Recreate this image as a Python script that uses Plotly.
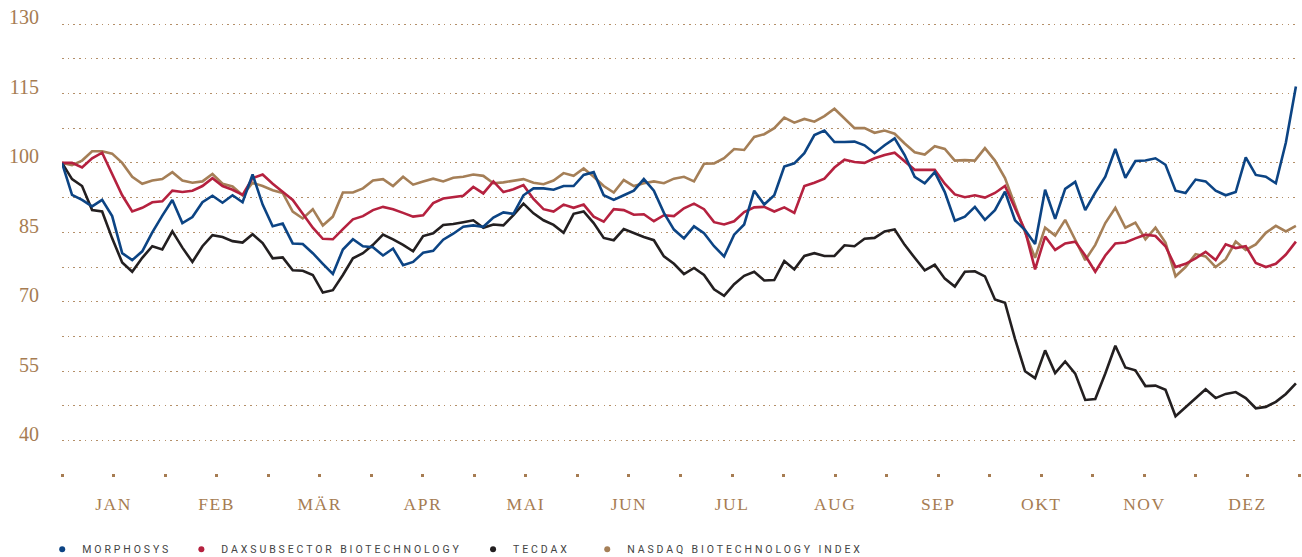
import numpy as np
import plotly.graph_objects as go

# ---------------- data (index, start = 100) ----------------
months = ["JAN", "FEB", "MÄR", "APR", "MAI", "JUN", "JUL", "AUG", "SEP", "OKT", "NOV", "DEZ"]

morphosys = [
    100, 93.1, 92, 90.6, 92, 88.5, 80.5, 79, 80.9, 85,
    88.6, 92, 87, 88.3, 91.5, 92.9, 91.4, 93, 91.5, 97.5,
    91, 86.3, 86.9, 82.6, 82.5, 80.5, 78.2, 76, 81.3, 83.5,
    82, 81.8, 80, 81.5, 77.9, 78.6, 80.6, 81, 83.4, 84.7,
    86.2, 86.5, 86.2, 88.2, 89.3, 89, 93, 94.5, 94.5, 94.2,
    95, 95, 97.4, 98, 93, 92, 93, 94, 96.5, 94,
    89.2, 85.6, 83.7, 86.3, 84.8, 82, 79.8, 84.5, 86.7, 94,
    91, 93, 99.2, 99.9, 102.1, 106, 107, 104.5, 104.5, 104.6,
    103.8, 102.1, 103.8, 105.3, 101.7, 97, 95.6, 98, 93.7, 87.5,
    88.4, 90.5, 87.7, 89.8, 93.8, 87.6, 85.5, 82.5, 94.2, 87.9,
    94.4, 95.9, 89.8, 93.6, 97, 103, 96.8, 100.4, 100.5, 101,
    99.6, 94, 93.5, 96.4, 96, 94, 93, 93.7, 101.2, 97.4,
    97, 95.6, 104.4, 116.5,
]

dax_biotech = [
    100, 100, 99, 101, 102.2, 97.7, 93, 89.5, 90.3, 91.5,
    91.7, 94, 93.7, 94, 95, 96.7, 95, 94.2, 93.1, 96.7,
    97.5, 95.5, 93.8, 92, 89, 86, 83.6, 83.5, 85.7, 87.8,
    88.5, 89.8, 90.5, 90, 89.2, 88.4, 88.7, 91.3, 92.3, 92.6,
    92.9, 94.8, 93.4, 96, 93.7, 94.3, 95.2, 92.2, 90, 89.5,
    91, 90.3, 91, 88.4, 87.3, 90, 89.8, 88.8, 88.9, 87.4,
    88.7, 88.5, 90.2, 91.2, 90, 87.2, 86.7, 87.4, 89.4, 90.4,
    90.5, 89.5, 90.4, 89.2, 95, 95.7, 96.6, 99, 100.7, 100.2,
    100, 101, 101.7, 102.2, 100.3, 98.5, 98.5, 98.5, 95.5, 93.2,
    92.6, 93, 92.5, 93.5, 95, 90, 85.4, 77, 84.1, 81.2,
    82.6, 83, 80, 76.5, 80, 82.6, 82.8, 83.7, 84.5, 84.2,
    82, 77.5, 78.2, 79.4, 80.8, 79, 82.4, 81.6, 82, 78.4,
    77.5, 78.2, 80.2, 83.0,
]

tecdax = [
    100, 96.5, 95, 89.8, 89.5, 83.7, 78.5, 76.5, 79.5, 82,
    81.3, 85.2, 81.7, 78.6, 82, 84.4, 84, 83.1, 82.8, 84.6,
    82.7, 79.4, 79.6, 76.8, 76.7, 75.8, 72, 72.5, 75.8, 79.4,
    80.5, 82.3, 84.5, 83.5, 82.3, 80.9, 84.2, 84.8, 86.6, 86.8,
    87.2, 87.6, 86, 86.7, 86.5, 88.7, 91.2, 89.1, 87.6, 86.6,
    84.9, 89, 89.5, 87, 83.8, 83.3, 85.7, 84.8, 84, 83.3,
    79.8, 78.2, 76, 77.3, 75.8, 72.7, 71.3, 73.8, 75.6, 76.5,
    74.6, 74.7, 78.8, 77, 79.9, 80.5, 79.9, 79.9, 82.2, 82,
    83.6, 83.8, 85.2, 85.6, 82.3, 79.5, 76.8, 78, 75, 73.3,
    76.5, 76.6, 75.5, 70.5, 69.8, 62, 55, 53.5, 59.5, 54.6,
    57.1, 54.5, 48.8, 49, 54.5, 60.5, 55.8, 55.2, 51.8, 51.9,
    51, 45.3, 47.3, 49.3, 51.1, 49.2, 50.1, 50.5, 49.2, 47,
    47.3, 48.4, 50.1, 52.4,
]

nasdaq_biotech = [
    100, 99.5, 100.5, 102.5, 102.5, 102, 100, 97, 95.5, 96.2,
    96.5, 98, 96.2, 95.7, 96, 97.6, 95.5, 94.9, 93, 95.7,
    95, 94.1, 93.5, 89.5, 88, 90, 86.5, 88.4, 93.6, 93.6,
    94.5, 96.2, 96.5, 95, 97, 95.3, 96, 96.6, 96, 96.8,
    97, 97.5, 97.2, 95.6, 95.8, 96.2, 96.5, 95.7, 95.4, 96.2,
    97.8, 97.2, 98.8, 97, 95, 93.6, 96.3, 95, 95.6, 96,
    95.6, 96.6, 97, 96, 99.8, 99.9, 101, 103, 102.8, 105.6,
    106.2, 107.5, 109.8, 108.7, 109.5, 108.9, 110.1, 111.7, 109.6, 107.5,
    107.5, 106.5, 107, 106.3, 104.2, 102.3, 101.8, 103.6, 103, 100.5,
    100.6, 100.5, 103.2, 100.5, 96.7, 90.8, 85, 79.5, 86, 84.3,
    87.7, 83.4, 79, 82.3, 87, 90.3, 86, 87.1, 83.5, 86,
    82.8, 75.5, 77.5, 80.3, 79.8, 77.5, 79.2, 83, 81.2, 82.4,
    84.9, 86.4, 85.2, 86.4,
]

# gridlines every 7.5 points, labels every 15 points
grid_values = [40, 47.5, 55, 62.5, 70, 77.5, 85, 92.5, 100, 107.5, 115, 122.5, 130]
label_values = [40, 55, 70, 85, 100, 115, 130]

# x position of each observation, in months since 1 January
n_obs = len(morphosys)
x_pos = np.linspace(0, 11.97, n_obs)

# ---------------- styling ----------------
TAN = "#a67c52"
GRID = "#b48f69"
SERIF = "Liberation Serif, serif"
Y_RANGE = [33.02, 132.16]
LABEL_RAISE = 1.45  # labels sit on the gridline (baseline), i.e. slightly above it

names = ["MORPHOSYS", "DAXSUBSECTOR BIOTECHNOLOGY", "TECDAX", "NASDAQ BIOTECHNOLOGY INDEX"]
colors = {
    "MORPHOSYS": "#0c4484",
    "DAXSUBSECTOR BIOTECHNOLOGY": "#b5213f",
    "TECDAX": "#231f20",
    "NASDAQ BIOTECHNOLOGY INDEX": "#a57f57",
}
series = {
    "MORPHOSYS": morphosys,
    "DAXSUBSECTOR BIOTECHNOLOGY": dax_biotech,
    "TECDAX": tecdax,
    "NASDAQ BIOTECHNOLOGY INDEX": nasdaq_biotech,
}

fig = go.Figure()

# lines (drawn so that MorphoSys sits on top)
for name in ["NASDAQ BIOTECHNOLOGY INDEX", "TECDAX", "DAXSUBSECTOR BIOTECHNOLOGY", "MORPHOSYS"]:
    fig.add_trace(go.Scatter(
        x=x_pos, y=series[name], mode="lines", name=name,
        line=dict(color=colors[name], width=2.6),
        showlegend=False, hoverinfo="skip",
    ))

# empty trace that anchors the label-only y axis
fig.add_trace(go.Scatter(x=[None], y=[None], yaxis="y2", showlegend=False, hoverinfo="skip"))

# legend entries (dot markers), each in its own legend box
legend_ids = ["legend", "legend2", "legend3", "legend4"]
legend_x = [-0.016, 0.0965, 0.3323, 0.4246]
for name, lid in zip(names, legend_ids):
    fig.add_trace(go.Scatter(
        x=[None], y=[None], mode="markers",
        name='<span style="letter-spacing:2.9px">' + name + "</span>",
        marker=dict(color=colors[name], size=6, symbol="circle"),
        showlegend=True, legend=lid,
    ))

legend_common = dict(
    orientation="h", xanchor="left", y=-0.166, yanchor="middle",
    font=dict(family="Roboto", size=10.5, color="#444444"),
    bgcolor="rgba(0,0,0,0)", itemwidth=30,
)
layout_legends = {lid: dict(legend_common, x=lx) for lid, lx in zip(legend_ids, legend_x)}

x_tick_values = [i * 0.5 for i in range(25)]
x_tick_labels = [
    '<span style="letter-spacing:1.5px">' + months[i // 2] + "</span>" if i % 2 == 1 else ""
    for i in range(25)
]

fig.update_layout(
    width=1302, height=557,
    margin=dict(l=62, r=3, t=14, b=84, autoexpand=False),
    paper_bgcolor="white", plot_bgcolor="white",
    showlegend=True,
    xaxis=dict(
        range=[0, 12], tickmode="array", tickvals=x_tick_values, ticktext=x_tick_labels,
        showgrid=False, zeroline=False, showline=False, automargin=False,
        ticks="outside", ticklen=3, tickwidth=3, tickcolor=TAN,
        tickfont=dict(family=SERIF, size=17.5, color=TAN),
        ticklabelstandoff=12,
    ),
    yaxis=dict(
        range=Y_RANGE, tickmode="array", tickvals=grid_values, showticklabels=False,
        showgrid=True, gridcolor=GRID, gridwidth=1.4, griddash="1.5px,4.2px",
        zeroline=False, showline=False, ticks="", automargin=False,
    ),
    yaxis2=dict(
        overlaying="y", side="left", range=Y_RANGE, tickmode="array",
        tickvals=[v + LABEL_RAISE for v in label_values],
        ticktext=[str(v) for v in label_values],
        showgrid=False, zeroline=False, showline=False, ticks="", automargin=False,
        tickfont=dict(family=SERIF, size=20, color=TAN),
        ticklabelstandoff=22,
    ),
    **layout_legends,
)

fig.write_html(
    "out.html",
    config={"displayModeBar": False},
    post_script="document.body.style.margin='0';document.body.style.overflow='hidden';",
)
